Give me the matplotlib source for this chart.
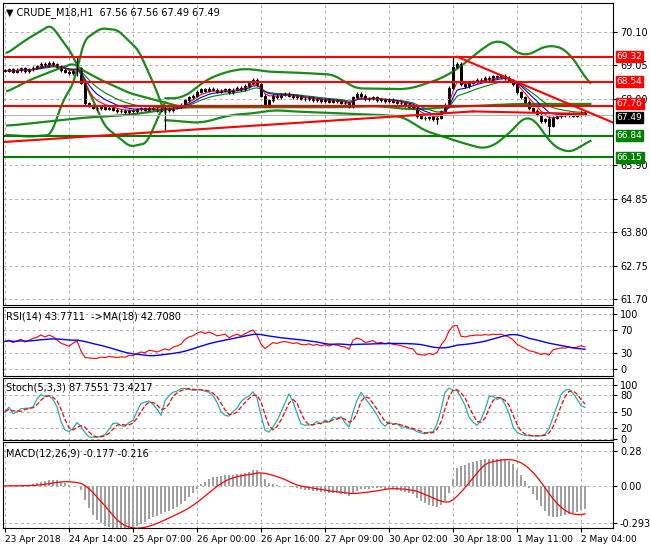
import matplotlib
matplotlib.use("Agg")
import matplotlib.pyplot as plt
import numpy as np

closes = [68.88,68.92,68.85,68.90,68.95,68.87,68.92,68.98,69.02,
          69.10,69.05,69.12,69.08,69.00,
          68.90,68.85,68.80,68.88,68.95,
          68.50,67.85,67.78,
          67.72,67.70,67.75,67.68,67.72,67.65,67.60,67.62,67.58,67.63,67.60,67.66,67.70,67.65,67.72,67.68,
          67.62,67.66,67.70,67.64,67.72,67.75,67.80,
          67.95,68.05,68.10,68.22,68.30,68.25,68.32,
          68.28,68.22,68.25,68.30,68.20,68.28,68.35,68.30,68.40,68.50,
          68.60,68.45,68.10,67.80,
          67.95,68.10,68.05,68.12,68.15,
          68.10,68.05,68.08,68.00,67.98,68.02,67.95,67.98,67.92,67.96,67.90,67.95,67.92,67.88,67.85,
          67.75,68.05,68.15,68.10,
          67.98,68.00,68.05,67.95,67.98,67.92,67.96,67.90,67.88,67.85,
          67.80,67.75,67.72,
          67.45,67.40,67.38,67.42,67.35,67.40,
          67.60,67.80,
          68.35,
          69.00,69.10,
          68.45,68.40,68.50,
          68.55,68.60,68.58,68.65,68.62,68.70,68.68,68.72,
          68.65,68.58,68.45,
          68.20,68.05,67.90,
          67.70,67.62,67.50,
          67.30,67.35,67.15,67.40,
          67.45,67.50,67.48,67.52,67.46,67.50,67.56,67.49]
wick_bars = [18, 40, 112, 136, 108]
wick_lows = [68.70, 67.00, 68.60, 66.84, 67.20]
wick_highs = [69.32, 67.80, 69.32, 67.45, 67.45]

date_labels = ["23 Apr 2018","24 Apr 14:00","25 Apr 07:00","26 Apr 00:00","26 Apr 16:00",
               "27 Apr 09:00","30 Apr 02:00","30 Apr 18:00","1 May 11:00","2 May 04:00"]
price_ticks = [70.10,69.05,68.00,65.90,64.85,63.80,62.75,61.70]
red_levels = [69.32,68.54,67.76]
green_levels = [66.84,66.15]
last_price = 67.49

def zx(v): return np.array(v)/9.6
def zy(v): return 70.10-(np.array(v)-96)*0.010487
band_U_x = [5,50,110,160,200,240,300,340,365,385]
band_U_y = [160,120,75,160,270,380,440,430,360,300]
band_U2_x = [385,430,480,540,590,620,700,800,830,970,1000,1050,1100,1140,1190,1240,1310,1360,1405]
band_U2_y = [295,295,240,212,205,215,218,225,265,268,255,235,195,150,112,175,130,160,265]
band_L_x = [5,60,110,140,165,190,230,270,320,360,385]
band_L_y = [405,410,405,300,250,120,85,90,150,260,345]
band_L2_x = [385,470,540,600,640,700,800,900,960,1000,1040,1100,1160,1220,1260,1300,1340,1370,1405]
band_L2_y = [360,370,345,340,330,335,340,345,350,390,405,430,450,390,330,420,458,455,415]
mid_x = [5,100,200,300,420,600,700,800,900,980,1050,1230,1405]
mid_y = [378,365,352,345,322,322,322,322,318,330,322,312,312]
ema_x = [5,60,110,165,185,230,300,360,420]
ema_y = [275,240,215,190,210,240,280,300,320]

def smooth_curve(xs, ys, w=5):
    X = np.linspace(xs[0], xs[-1], 200)
    Y = np.interp(X, xs, ys)
    pad = np.r_[np.full(w, Y[0]), Y, np.full(w, Y[-1])]
    Ys = np.convolve(pad, np.ones(2*w+1)/(2*w+1), mode='same')[w:-w]
    return X, Ys

c = np.array(closes); n = len(c)
o = np.r_[c[0], c[:-1]]
hi = np.maximum(o, c) + 0.05; lo = np.minimum(o, c) - 0.05
for b, l, h in zip(wick_bars, wick_lows, wick_highs):
    lo[b] = min(lo[b], l); hi[b] = max(hi[b], h)
idx = np.arange(n)

def ema(x, p):
    a = 2/(p+1); out = np.empty(len(x)); out[0] = x[0]
    for i in range(1, len(x)): out[i] = a*x[i]+(1-a)*out[i-1]
    return out

fig = plt.figure(figsize=(6.5,5.5), dpi=100)
W = 610/650; L = 3/650
ax = fig.add_axes([L, 1-305/550, W, 302/550])
ar = fig.add_axes([L, 1-376/550, W, 69/550])
ast = fig.add_axes([L, 1-440/550, W, 62/550])
am = fig.add_axes([L, 1-528/550, W, 86/550])
xl = (-0.5, 152)
gticks = np.arange(0, 146, 16)
for a in (ax, ar, ast, am):
    a.set_xlim(*xl)
    a.yaxis.tick_right()
    a.set_xticks(gticks)
    a.tick_params(axis='x', labelbottom=False, length=0)
    a.tick_params(axis='y', labelsize=7, length=3, pad=2)
    a.grid(True, color='#b0b0b0', ls=(0,(3,3)), lw=0.7)
    for s in a.spines.values(): s.set_color('black'); s.set_linewidth(0.8)

ax.set_ylim(61.51, 71.01)
ax.set_yticks(price_ticks)
ax.set_yticklabels([f"{v:.2f}" for v in price_ticks])
for xs, ys in [(band_U_x,band_U_y),(band_U2_x,band_U2_y),(band_L_x,band_L_y),(band_L2_x,band_L2_y),(mid_x,mid_y),(ema_x,ema_y)]:
    X, Y = smooth_curve(zx(xs), zy(ys))
    ax.plot(X, Y, color='#1a8a1a', lw=1.6)
ax.plot(idx, ema(c,13), color='green', lw=0.8)
ax.plot(idx, ema(c,8), color='blue', lw=0.8)
ax.plot(idx, ema(c,5), color='red', lw=0.8)
ax.vlines(idx, lo, hi, color='black', lw=0.9)
up = c >= o
ax.bar(idx, np.maximum(np.abs(c-o), 0.02), bottom=np.minimum(o,c), width=0.7,
       color=np.where(up,'white','black'), edgecolor='black', lw=0.7)
for v in red_levels: ax.axhline(v, color='red', lw=1.5)
for v in green_levels: ax.axhline(v, color='green', lw=1.5)
ax.axhline(last_price, color='#b0b0b0', lw=0.7)
ax.plot([0, 117], [66.64, 67.60], color='red', lw=1.5)
ax.plot([117, 145], [67.60, 67.52], color='red', lw=1.5)
ax.plot([113, 152], [69.32, 67.25], color='red', lw=1.5)
for v, ypos, col in [(69.32,69.32,'red'),(68.54,68.54,'red'),(67.76,67.84,'red'),(67.49,67.42,'black'),
                     (66.84,66.84,'green'),(66.15,66.15,'green')]:
    ax.text(1.006, ypos, f"{v:.2f}", transform=ax.get_yaxis_transform(), fontsize=6.5, color='white',
            va='center', ha='left', bbox=dict(boxstyle='square,pad=0.12', fc=col, ec=col))
ax.text(0.005, 0.985, "▼ CRUDE_M18,H1  67.56 67.56 67.49 67.49", transform=ax.transAxes, fontsize=7, va='top')

d = np.diff(c, prepend=c[0]); g = np.clip(d,0,None); ls = np.clip(-d,0,None)
ag = np.empty(n); al = np.empty(n); ag[0]=0.03; al[0]=0.03
for i in range(1,n):
    ag[i] = (ag[i-1]*13+g[i])/14; al[i] = (al[i-1]*13+ls[i])/14
rsi = 100 - 100/(1+ag/np.maximum(al,1e-9))
rma = np.array([rsi[max(0,i-17):i+1].mean() for i in range(n)])
ar.plot(idx, rsi, color='red', lw=0.8); ar.plot(idx, rma, color='blue', lw=1)
ar.set_ylim(-12, 112); ar.set_yticks([0,30,70,100])
ar.text(0.005, 0.93, "RSI(14) 43.7711  ->MA(18) 42.7080", transform=ar.transAxes, fontsize=7, va='top')

hh = np.array([hi[max(0,i-4):i+1].max() for i in range(n)])
ll = np.array([lo[max(0,i-4):i+1].min() for i in range(n)])
num = c-ll; den = hh-ll
k = np.array([num[max(0,i-2):i+1].sum()/max(den[max(0,i-2):i+1].sum(),1e-9)*100 for i in range(n)])
dd = np.array([k[max(0,i-2):i+1].mean() for i in range(n)])
ast.plot(idx, k, color='#20b2aa', lw=0.9); ast.plot(idx, dd, color='red', lw=0.9, ls='--')
ast.set_ylim(-2, 112); ast.set_yticks([0,20,50,80,100])
ast.text(0.005, 0.93, "Stoch(5,3,3) 87.7551 73.4217", transform=ast.transAxes, fontsize=7, va='top')

macd = ema(c,12)-ema(c,26); sig = np.array([macd[max(0,i-8):i+1].mean() for i in range(n)])
am.bar(idx, macd, width=0.3, color='#a0a0a0')
am.plot(idx, sig, color='red', lw=0.9)
am.set_ylim(-0.336, 0.352); am.set_yticks([-0.293, 0.0, 0.28])
am.set_yticklabels(["-0.293","0.00","0.28"])
am.text(0.005, 0.93, "MACD(12,26,9) -0.177 -0.216", transform=am.transAxes, fontsize=7, va='top')
am.set_xticks(gticks)
am.set_xticklabels(date_labels, fontsize=6.5, ha='left')
am.tick_params(axis='x', labelbottom=True, length=3, pad=2)

fig.savefig("out.png", dpi=100)
